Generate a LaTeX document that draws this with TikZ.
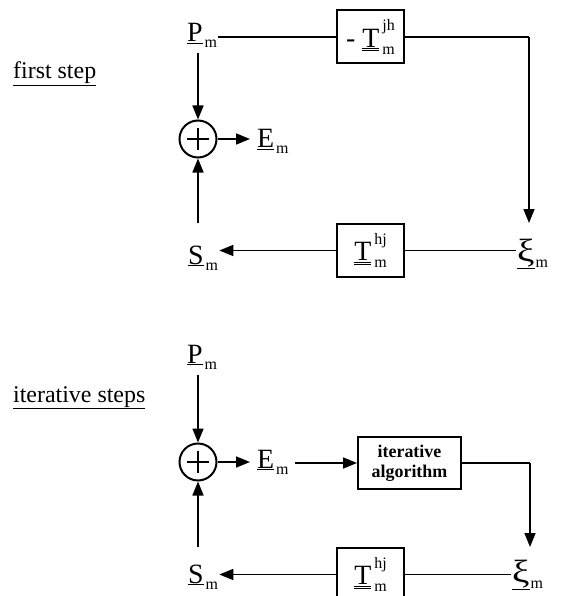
\documentclass[tikz,border=0pt]{standalone}
\usepackage{fontspec}
\setmainfont{Liberation Serif}
\usetikzlibrary{arrows.meta}
\newcommand{\subm}[1]{\raisebox{-6bp}{\fontsize{16}{16}\selectfont #1}}
\newcommand{\vecl}[2]{\underline{#1}\kern2bp\subm{#2}}
\newcommand{\tenl}[2]{\underline{\underline{T}}\kern3bp\rlap{\raisebox{-7bp}{\fontsize{16}{16}\selectfont #2}}\raisebox{16.5bp}{\fontsize{16}{16}\selectfont #1}}
\newcommand{\xil}{\underline{\scalebox{1.4}[1.15]{ξ}}\kern1bp\subm{m}}
\begin{document}
\begin{tikzpicture}[x=1bp,y=-1bp,
  lbl/.style={inner sep=1bp, font=\fontsize{28}{32}\selectfont},
  steplabel/.style={inner sep=0pt, font=\fontsize{24}{28}\selectfont},
  blk/.style={draw, line width=2bp, minimum width=67bp, minimum height=53bp, inner sep=0pt, font=\fontsize{28}{32}\selectfont},
  algbox/.style={draw, line width=2bp, minimum width=103bp, minimum height=52bp, inner sep=0pt, align=center, font=\fontsize{18}{20}\selectfont\bfseries},
  sumnode/.style={draw, circle, line width=2bp, minimum size=37bp, inner sep=0pt,
    path picture={\draw[line width=1.6bp] ([xshift=-11bp]path picture bounding box.center) -- ([xshift=11bp]path picture bounding box.center);
                  \draw[line width=1.6bp] ([yshift=-11bp]path picture bounding box.center) -- ([yshift=11bp]path picture bounding box.center);}},
  conn/.style={line width=1.7bp},
  arr/.style={conn, -{Triangle[length=14bp,width=11bp]}}
]
\useasboundingbox (0,0) rectangle (561,596);

% ---------- first step ----------
\node[steplabel, anchor=base west] (L1) at (13,79) {\underline{first step}};
\node[lbl, anchor=base west] (P1) at (186,42) {\vecl{P}{m}};
\node[blk] (B1) at (370.5,37) {- \tenl{jh}{m}};
\node[sumnode] (Sum1) at (198,139) {};
\node[lbl, anchor=base west] (E1) at (256,148) {\vecl{E}{m}};
\node[blk] (B2) at (370.5,250.5) {\tenl{hj}{m}};
\node[lbl, anchor=base west] (S1) at (187,264) {\vecl{S}{m}};
\node[lbl, anchor=base west] (X1) at (516,261) {\xil};
\coordinate (c1) at (529,37);

\draw[conn] (B1.west -| P1.east) -- (B1.west);
\draw[conn] (B1.east) -- (c1);
\draw[arr] (c1) -- (c1 |- B2.north);
\draw[arr, shorten <=4bp] (P1.south -| Sum1.north) -- (Sum1.north);
\draw[arr, shorten >=6bp] (Sum1.east) -- (Sum1.east -| E1.west);
\draw[arr] (B2.north -| Sum1.south) -- (Sum1.south);
\draw[conn] (B2.east) -- (B2.east -| X1.west);
\draw[arr] (B2.west) -- (B2.west -| S1.east);

% ---------- iterative steps ----------
\node[steplabel, anchor=base west] (L2) at (13,402) {\underline{iterative steps}};
\node[lbl, anchor=base west] (P2) at (186,363) {\vecl{P}{m}};
\node[sumnode] (Sum2) at (198,462) {};
\node[lbl, anchor=base west] (E2) at (256,468) {\vecl{E}{m}};
\node[algbox] (B3) at (409.5,463) {iterative\\algorithm};
\coordinate (c2) at (530,463);
\node[blk] (B4) at (370.5,574.5) {\tenl{hj}{m}};
\node[lbl, anchor=base west] (X2) at (511,582) {\xil};
\node[lbl, anchor=base west] (S2) at (187,583) {\vecl{S}{m}};

\draw[arr, shorten <=5bp] (P2.south -| Sum2.north) -- (Sum2.north);
\draw[arr, shorten >=6bp] (Sum2.east) -- (Sum2.east -| E2.west);
\draw[arr, shorten <=5bp] (E2.east |- B3.west) -- (B3.west);
\draw[conn] (B3.east) -- (c2);
\draw[arr] (c2) -- (c2 |- B4.north);
\draw[conn] (B4.east) -- (B4.east -| X2.west);
\draw[arr] (B4.west) -- (B4.west -| S2.east);
\draw[arr] (B4.north -| Sum2.south) -- (Sum2.south);
\end{tikzpicture}
\end{document}
